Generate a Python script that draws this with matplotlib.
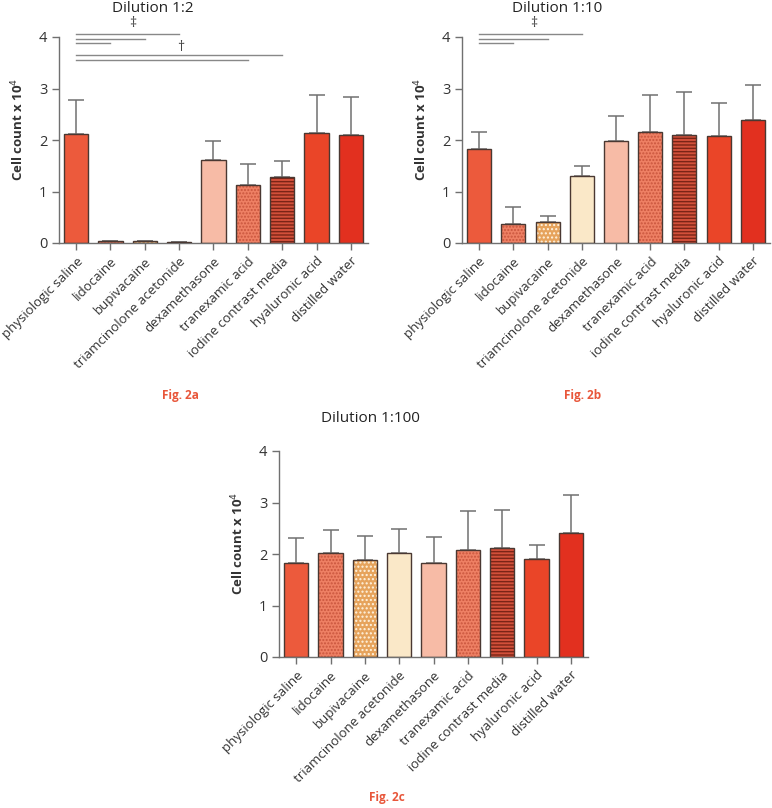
import matplotlib.pyplot as plt
import numpy as np

plt.rcParams['font.family'] = ['Open Sans', 'DejaVu Sans']

# data
categories = ['physiologic saline', 'lidocaine', 'bupivacaine', 'triamcinolone acetonide',
              'dexamethasone', 'tranexamic acid', 'iodine contrast media',
              'hyaluronic acid', 'distilled water']

mean_a = [2.11, 0.03, 0.03, 0.02, 1.61, 1.13, 1.29, 2.14, 2.10]
err_a = [0.66, 0.0, 0.0, 0.0, 0.38, 0.40, 0.30, 0.73, 0.74]

mean_b = [1.82, 0.375, 0.41, 1.31, 1.99, 2.16, 2.10, 2.08, 2.38]
err_b = [0.34, 0.315, 0.11, 0.18, 0.47, 0.72, 0.83, 0.64, 0.69]

mean_c = [1.83, 2.01, 1.88, 2.01, 1.83, 2.08, 2.11, 1.91, 2.41]
err_c = [0.49, 0.45, 0.47, 0.48, 0.50, 0.75, 0.75, 0.26, 0.74]

# significance brackets: (end index, y level)
sig_a = [(3, 4.05), (2, 3.96), (1, 3.88), (6, 3.65), (5, 3.55)]
sig_b = [(3, 4.05), (2, 3.96), (1, 3.88)]

# bar styles: face, hatch, hatch colour
styles = [
    ('#EC5A3C', None, None),
    ('#EE8064', '.....', '#C9553D'),
    ('#E6A35C', '....', '#FFF3E0'),
    ('#FAE8C8', None, None),
    ('#F7BBA6', None, None),
    ('#EE8064', '.....', '#C9553D'),
    ('#D2503A', '-----', '#7A2416'),
    ('#EA4528', None, None),
    ('#E2301F', None, None),
]

W, H = 772, 808
fig = plt.figure(figsize=(W / 100, H / 100), dpi=100)
grey = '#707070'
fig_red = '#E8563A'


def make_axes(left, right, y0):
    top = y0 - 4.4 * 51.5
    return fig.add_axes([left / W, (H - y0) / H, (right - left) / W, (y0 - top) / H])


def draw_panel(ax, means, errs):
    x = np.arange(len(categories))
    for i in x:
        face, hatch, hcol = styles[i]
        if hatch:
            ax.bar(i, means[i], width=0.7, color=face, hatch=hatch, edgecolor=hcol, linewidth=0, zorder=2)
        else:
            ax.bar(i, means[i], width=0.7, color=face, linewidth=0, zorder=2)
        ax.bar(i, means[i], width=0.7, facecolor='none', edgecolor='#4A3832', linewidth=1.0, zorder=3)
    ax.errorbar(x, means, yerr=[np.zeros(len(errs)), errs], fmt='none', ecolor=grey,
                elinewidth=1.1, capsize=6, capthick=1.1, zorder=1)
    ax.set_xlim(-0.5, 8.5)
    ax.set_ylim(0, 4.4)
    ax.set_yticks([0, 1, 2, 3, 4])
    ax.set_xticks(x)
    ax.set_xticklabels(categories, rotation=45, ha='right', rotation_mode='anchor', fontsize=9.5,
                       color='#333333')
    ax.spines['top'].set_visible(False)
    ax.spines['right'].set_visible(False)
    ax.spines['left'].set_bounds(0, 4)
    for s in ['left', 'bottom']:
        ax.spines[s].set_color(grey)
        ax.spines[s].set_linewidth(1.0)
    ax.tick_params(axis='both', colors=grey, width=1.0, length=5, labelsize=10.5, labelcolor='#333333')
    ax.tick_params(axis='x', labelsize=9.5)
    ax.set_ylabel('Cell count x 10$^4$', fontsize=9.5, fontweight='bold', color='#333333')
    ax.yaxis.set_label_coords(-0.105, 0.5)


def draw_sig(ax, sig):
    for end, y in sig:
        ax.plot([0, end], [y, y], color='#888888', lw=1.0, clip_on=False)


ax_a = make_axes(59, 368, 243)
draw_panel(ax_a, mean_a, err_a)
draw_sig(ax_a, sig_a)
ax_a.text(1.65, 4.27, '‡', ha='center', va='center', fontsize=10, color='#444444')
ax_a.text(3.05, 3.8, '†', ha='center', va='center', fontsize=10, color='#444444')

ax_b = make_axes(462, 770, 243)
draw_panel(ax_b, mean_b, err_b)
draw_sig(ax_b, sig_b)
ax_b.text(1.6, 4.27, '‡', ha='center', va='center', fontsize=10, color='#444444')

ax_c = make_axes(279, 588, 657)
draw_panel(ax_c, mean_c, err_c)

fig.text(153 / W, 1 - 8 / H, 'Dilution 1:2', ha='center', va='center', fontsize=11, color='#222222')
fig.text(557 / W, 1 - 8 / H, 'Dilution 1:10', ha='center', va='center', fontsize=11, color='#222222')
fig.text(370 / W, 1 - 419 / H, 'Dilution 1:100', ha='center', va='center', fontsize=11, color='#222222')

fig.text(180 / W, 1 - 395 / H, 'Fig. 2a', ha='center', va='center', fontsize=8.5, fontweight='bold', color=fig_red)
fig.text(583 / W, 1 - 395 / H, 'Fig. 2b', ha='center', va='center', fontsize=8.5, fontweight='bold', color=fig_red)
fig.text(387 / W, 1 - 797 / H, 'Fig. 2c', ha='center', va='center', fontsize=8.5, fontweight='bold', color=fig_red)

fig.savefig('out.png', dpi=100)
